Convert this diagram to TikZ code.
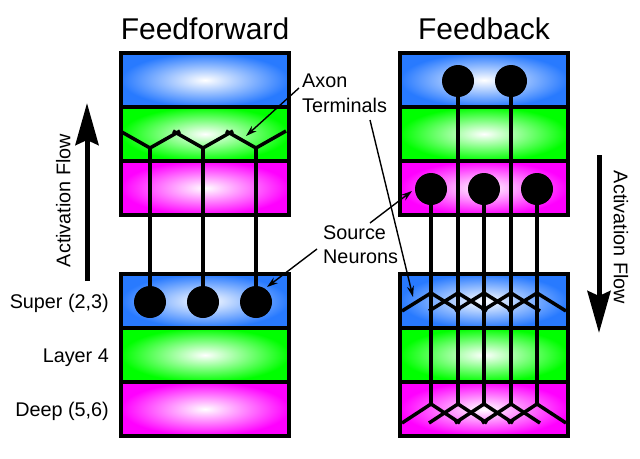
\documentclass[tikz,border=0pt]{standalone}
\usepackage{fontspec}
\setmainfont{Liberation Sans}
\usetikzlibrary{arrows.meta}
\definecolor{layblue}{RGB}{40,122,255}
\definecolor{laygreen}{RGB}{0,255,0}
\definecolor{laymag}{RGB}{255,0,255}
\pgfdeclareradialshading{shblue}{\pgfpoint{0bp}{0bp}}{color(0bp)=(white);color(25bp)=(layblue);color(50bp)=(layblue)}
\pgfdeclareradialshading{shgreen}{\pgfpoint{0bp}{0bp}}{color(0bp)=(white);color(25bp)=(laygreen);color(50bp)=(laygreen)}
\pgfdeclareradialshading{shmag}{\pgfpoint{0bp}{0bp}}{color(0bp)=(white);color(25bp)=(laymag);color(50bp)=(laymag)}
\tikzset{
  layer/.style={draw=black, line width=4pt, minimum width=168pt, minimum height=54pt,
    inner sep=0pt, outer sep=0pt, shade},
  lblue/.style={layer, shading=shblue},
  lgreen/.style={layer, shading=shgreen},
  lmag/.style={layer, shading=shmag},
  neuron/.style={circle, fill=black, minimum size=32pt, inner sep=0pt, outer sep=0pt},
  axon/.style={line width=3.5pt, black},
  labtext/.style={font=\fontsize{19.8}{24}\selectfont, inner sep=0pt},
  titletext/.style={font=\fontsize{30}{36}\selectfont, inner sep=0pt},
  labarrow/.style={line width=1.4pt, -{Stealth[length=11pt,width=7pt]}},
  flowarrow/.style={line width=5pt, -{Stealth[length=42pt,width=23pt,inset=5pt]}}
}
\begin{document}
\begin{tikzpicture}[x=1pt,y=-1pt]
\useasboundingbox (0,0) rectangle (640,458);

% titles
\node[titletext, anchor=base] (tff) at (205,39) {Feedforward};
\node[titletext, anchor=base] (tfb) at (484,39) {Feedback};

% layers: feedforward
\node[lblue]  (ftb) at (205,80)  {};
\node[lgreen] (ftg) at (205,134) {};
\node[lmag]   (ftm) at (205,188) {};
\node[lblue]  (fbb) at (205,301) {};
\node[lgreen] (fbg) at (205,355) {};
\node[lmag]   (fbm) at (205,409) {};
% layers: feedback
\node[lblue]  (btb) at (484,80)  {};
\node[lgreen] (btg) at (484,134) {};
\node[lmag]   (btm) at (484,188) {};
\node[lblue]  (bbb) at (484,301) {};
\node[lgreen] (bbg) at (484,355) {};
\node[lmag]   (bbm) at (484,409) {};

% layer labels
\node[labtext, anchor=base east] (lsup) at (109,308) {Super (2,3)};
\node[labtext, anchor=base east] (ll4)  at (109,362) {Layer 4};
\node[labtext, anchor=base east] (ldp)  at (109,416) {Deep (5,6)};

% feedforward neurons and axon terminals
\foreach \i/\x in {1/150,2/203,3/256}{
  \coordinate (fv\i) at (\x,148);
  \coordinate (fs\i) at (\x,302);
  \draw[axon] (fs\i) -- (fv\i);
  \draw[axon] ([shift={(-30,-17)}]fv\i) -- (fv\i) -- ([shift={(30,-17)}]fv\i);
  \node[neuron] (fn\i) at (fs\i) {};
}

% feedback neurons and axon terminals
\foreach \i/\x/\y in {1/431/189,2/458/81,3/484/189,4/511/81,5/537/189}{
  \coordinate (bs\i) at (\x,\y);
  \coordinate (bu\i) at (\x,293);
  \coordinate (bv\i) at (\x,404);
  \draw[axon] (bs\i) -- (bv\i);
  \draw[axon] ([shift={(-29,18)}]bu\i) -- (bu\i) -- ([shift={(29,18)}]bu\i);
  \draw[axon] ([shift={(-29,19)}]bv\i) -- (bv\i) -- ([shift={(29,19)}]bv\i);
  \node[neuron] (bn\i) at (bs\i) {};
}

% annotation labels
\node[labtext, anchor=base west] (axon) at (302,87) {Axon};
\node[labtext, anchor=base west] (term) at (302,112.5) {Terminals};
\node[labtext, anchor=base west] (src)  at (323,239) {Source};
\node[labtext, anchor=base west] (neur) at (323,263.5) {Neurons};

\coordinate (a1s) at (299,88);
\coordinate (a1e) at (246,136);
\coordinate (a2s) at (370,120);
\coordinate (a2e) at (413,297);
\coordinate (s1s) at (370,223);
\coordinate (s1e) at (412,191);
\coordinate (s2s) at (317,249);
\coordinate (s2e) at (267,287);
\draw[labarrow] (a1s) -- (a1e);
\draw[labarrow] (a2s) -- (a2e);
\draw[labarrow] (s1s) -- (s1e);
\draw[labarrow] (s2s) -- (s2e);

% activation flow
\coordinate (fl1s) at (87,281);
\coordinate (fl1e) at (87,103);
\draw[flowarrow] (fl1s) -- (fl1e);
\node[labtext, rotate=90] (fl1t) at (63.3,200.5) {Activation Flow};
\coordinate (fl2s) at (599,155);
\coordinate (fl2e) at (599,333);
\draw[flowarrow] (fl2s) -- (fl2e);
\node[labtext, rotate=-90] (fl2t) at (621,237.5) {Activation Flow};
\end{tikzpicture}
\end{document}
